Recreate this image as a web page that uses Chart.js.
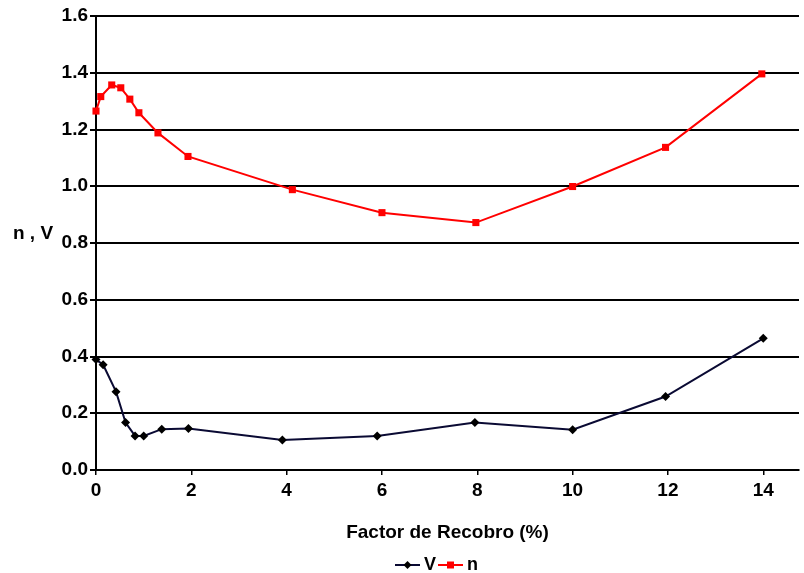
<!DOCTYPE html>
<html>
<head>
<meta charset="utf-8">
<script src="https://cdn.jsdelivr.net/npm/chart.js@4/dist/chart.umd.min.js"></script>
<style>
html,body{margin:0;padding:0;background:#fff;}
#wrap{width:804px;height:573px;}
</style>
</head>
<body>
<div id="wrap"><canvas id="c" width="804" height="573"></canvas></div>
<script>
// Data
const vX = [0, 0.15, 0.42, 0.62, 0.82, 1.0, 1.38, 1.94, 3.91, 5.9, 7.95, 10.0, 11.95, 14.0];
const vY = [0.389, 0.371, 0.276, 0.167, 0.12, 0.12, 0.144, 0.146, 0.106, 0.12, 0.167, 0.142, 0.259, 0.464];
const nX = [0, 0.1, 0.33, 0.52, 0.71, 0.9, 1.3, 1.93, 4.12, 6.0, 7.97, 10.0, 11.95, 13.97];
const nY = [1.265, 1.316, 1.357, 1.347, 1.307, 1.259, 1.188, 1.105, 0.988, 0.907, 0.872, 0.999, 1.137, 1.396];
const xTickValues = [0, 2, 4, 6, 8, 10, 12, 14];
const yTickValues = [0, 0.2, 0.4, 0.6, 0.8, 1.0, 1.2, 1.4, 1.6];
const seriesNames = ['V', 'n'];
const xTitle = 'Factor de Recobro (%)';
const yTitle = 'n , V';

const FONT = "'Liberation Sans', Arial, sans-serif";
const vLine = '#0a0a33', vPoint = '#000000', nColor = '#ff0000';

function toPoints(xs, ys){ return xs.map((x,i)=>({x:x, y:ys[i]})); }

const textPlugin = {
  id: 'extraText',
  afterDraw(chart){
    const ctx = chart.ctx;
    ctx.save();
    // vertical-axis title, drawn horizontally as in the reference
    ctx.font = 'bold 19px ' + FONT;
    ctx.fillStyle = '#000';
    ctx.textAlign = 'center';
    ctx.textBaseline = 'middle';
    ctx.fillText(yTitle, 33, 234);
    // legend: line + marker + name
    const ly = 565;
    const items = [
      { x: 395, color: vLine, marker: vPoint, shape: 'diamond', text: seriesNames[0] },
      { x: 438, color: nColor, marker: nColor, shape: 'square', text: seriesNames[1] }
    ];
    ctx.font = 'bold 18px ' + FONT;
    ctx.textAlign = 'left';
    items.forEach(it => {
      ctx.strokeStyle = it.color; ctx.lineWidth = 2;
      ctx.beginPath(); ctx.moveTo(it.x, ly); ctx.lineTo(it.x + 25, ly); ctx.stroke();
      const cx = it.x + 12.5;
      ctx.fillStyle = it.marker;
      ctx.beginPath();
      if (it.shape === 'diamond'){ ctx.moveTo(cx, ly-4); ctx.lineTo(cx+4, ly); ctx.lineTo(cx, ly+4); ctx.lineTo(cx-4, ly); ctx.closePath(); }
      else { ctx.rect(cx-3.5, ly-3.5, 7, 7); }
      ctx.fill();
      ctx.fillStyle = '#000';
      ctx.fillText(it.text, it.x + 29, ly);
    });
    ctx.restore();
  }
};

new Chart(document.getElementById('c'), {
  type: 'scatter',
  data: {
    datasets: [
      { label: seriesNames[0], data: toPoints(vX, vY), showLine: true, borderColor: vLine, borderWidth: 2,
        pointStyle: 'rectRot', pointRadius: 4.5, pointBackgroundColor: vPoint, pointBorderColor: vPoint, pointBorderWidth: 0,
        clip: false, tension: 0 },
      { label: seriesNames[1], data: toPoints(nX, nY), showLine: true, borderColor: nColor, borderWidth: 2,
        pointStyle: 'rect', pointRadius: 5, pointBackgroundColor: nColor, pointBorderColor: nColor, pointBorderWidth: 0,
        clip: false, tension: 0 }
    ]
  },
  options: {
    responsive: false,
    animation: false,
    events: [],
    layout: { padding: { top: 16, right: 4, left: 0, bottom: 24.4 } },
    plugins: {
      tooltip: { enabled: false },
      legend: { display: false }
    },
    scales: {
      x: {
        type: 'linear', min: 0, max: 14.75,
        afterBuildTicks(scale){ scale.ticks = xTickValues.map(v=>({value:v})); },
        ticks: { color: '#000', font: { family: FONT, size: 19, weight: 'bold' }, padding: 4, maxRotation: 0 },
        grid: { drawOnChartArea: false, drawTicks: true, tickLength: 5, color: '#000', lineWidth: 1.5 },
        border: { color: '#000', width: 2 },
        title: { display: true, text: xTitle, color: '#000', font: { family: FONT, size: 19, weight: 'bold' }, padding: { top: 16, bottom: 4 } }
      },
      y: {
        type: 'linear', min: 0, max: 1.6,
        afterBuildTicks(scale){ scale.ticks = yTickValues.map(v=>({value:v})); },
        afterFit(scale){ scale.width = 96; },
        ticks: { color: '#000', font: { family: FONT, size: 19, weight: 'bold' }, padding: 2, callback: v => v.toFixed(1) },
        grid: { color: '#000', lineWidth: 2, tickLength: 6 },
        border: { color: '#000', width: 2 }
      }
    }
  },
  plugins: [textPlugin]
});
</script>
</body>
</html>
